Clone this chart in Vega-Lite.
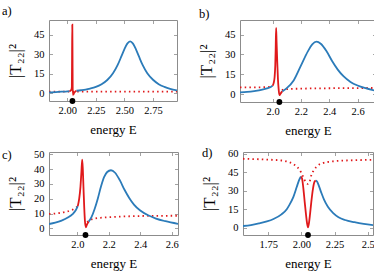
{
  "$schema": "https://vega.github.io/schema/vega-lite/v6.json",
  "background": "white",
  "padding": {"left": 1, "top": 4, "right": 0, "bottom": 0},
  "config": {
    "font": "Liberation Serif, serif",
    "view": {"stroke": "#8c8c8c", "strokeWidth": 1},
    "axis": {"grid": false, "domain": false, "tickColor": "#8c8c8c", "tickSize": -3.5, "tickWidth": 0.8,
      "labelFont": "Liberation Serif, serif", "labelFontSize": 10.5, "labelColor": "#000",
      "titleFont": "Liberation Serif, serif", "titleFontSize": 13, "titleFontWeight": "normal", "titleColor": "#000"},
    "axisBottom": {"labelPadding": 8, "titlePadding": 4, "minExtent": 18, "maxExtent": 18},
    "axisLeft": {"labelPadding": 8.5, "titlePadding": 5, "minExtent": 20, "maxExtent": 20, "titleFontSize": 17},
    "axisTop": {"labels": false, "minExtent": 0, "maxExtent": 0},
    "axisRight": {"labels": false, "minExtent": 0, "maxExtent": 0},
    "title": {"font": "Liberation Serif, serif", "fontSize": 12.5, "fontWeight": "normal", "anchor": "start", "frame": "group", "color": "#000", "offset": 0, "baseline": "alphabetic"},
    "line": {"interpolate": "monotone"}
  },
  "datasets": {
    "A": [
      {"E": 1.84, "T": 1.3, "s": "dot", "g": 0}, {"E": 2.96, "T": 1.3, "s": "dot", "g": 0},
      {"E": 1.84, "T": 0.6, "s": "blue", "g": 1}, {"E": 1.90, "T": 0.9, "s": "blue", "g": 1}, {"E": 1.95, "T": 1.2, "s": "blue", "g": 1}, {"E": 2.00, "T": 1.5, "s": "blue", "g": 1}, {"E": 2.02, "T": 1.7, "s": "blue", "g": 1},
      {"E": 2.02, "T": 1.7, "s": "red", "g": 5}, {"E": 2.03, "T": 2.1, "s": "red", "g": 5}, {"E": 2.036, "T": 2.8, "s": "red", "g": 5}, {"E": 2.04, "T": 5, "s": "red", "g": 5}, {"E": 2.042, "T": 30, "s": "red", "g": 5}, {"E": 2.044, "T": 53, "s": "red", "g": 5}, {"E": 2.046, "T": 25, "s": "red", "g": 5}, {"E": 2.048, "T": -1.2, "s": "red", "g": 5}, {"E": 2.053, "T": -0.9, "s": "red", "g": 5}, {"E": 2.06, "T": 0.3, "s": "red", "g": 5}, {"E": 2.07, "T": 1.3, "s": "red", "g": 5}, {"E": 2.08, "T": 1.9, "s": "red", "g": 5},
      {"E": 2.08, "T": 1.9, "s": "blue", "g": 2}, {"E": 2.12, "T": 2.3, "s": "blue", "g": 2}, {"E": 2.16, "T": 2.8, "s": "blue", "g": 2}, {"E": 2.20, "T": 3.6, "s": "blue", "g": 2}, {"E": 2.25, "T": 4.9, "s": "blue", "g": 2}, {"E": 2.30, "T": 7.0, "s": "blue", "g": 2}, {"E": 2.35, "T": 10.2, "s": "blue", "g": 2}, {"E": 2.40, "T": 15.4, "s": "blue", "g": 2}, {"E": 2.44, "T": 21.6, "s": "blue", "g": 2}, {"E": 2.475, "T": 28.8, "s": "blue", "g": 2}, {"E": 2.50, "T": 34.1, "s": "blue", "g": 2}, {"E": 2.525, "T": 38.3, "s": "blue", "g": 2}, {"E": 2.55, "T": 40, "s": "blue", "g": 2}, {"E": 2.575, "T": 38.3, "s": "blue", "g": 2}, {"E": 2.60, "T": 34.1, "s": "blue", "g": 2}, {"E": 2.625, "T": 28.8, "s": "blue", "g": 2}, {"E": 2.66, "T": 21.6, "s": "blue", "g": 2}, {"E": 2.70, "T": 15.4, "s": "blue", "g": 2}, {"E": 2.75, "T": 10.4, "s": "blue", "g": 2}, {"E": 2.80, "T": 7.0, "s": "blue", "g": 2}, {"E": 2.85, "T": 4.9, "s": "blue", "g": 2}, {"E": 2.90, "T": 3.4, "s": "blue", "g": 2}, {"E": 2.96, "T": 2.2, "s": "blue", "g": 2},
      {"E": 2.045, "T": -6, "s": "pt", "g": 9}
    ],
    "B": [
      {"E": 1.77, "T": 5.0, "s": "dot", "g": 0}, {"E": 1.90, "T": 5.1, "s": "dot", "g": 0}, {"E": 1.98, "T": 5.4, "s": "dot", "g": 0}, {"E": 2.00, "T": 5.6, "s": "dot", "g": 0},
      {"E": 2.065, "T": 3.0, "s": "dot", "g": 3}, {"E": 2.10, "T": 3.7, "s": "dot", "g": 3}, {"E": 2.20, "T": 4.1, "s": "dot", "g": 3}, {"E": 2.40, "T": 4.4, "s": "dot", "g": 3}, {"E": 2.73, "T": 4.6, "s": "dot", "g": 3},
      {"E": 1.77, "T": 1.3, "s": "blue", "g": 1}, {"E": 1.82, "T": 1.7, "s": "blue", "g": 1}, {"E": 1.87, "T": 2.3, "s": "blue", "g": 1}, {"E": 1.92, "T": 3.1, "s": "blue", "g": 1}, {"E": 1.96, "T": 4.3, "s": "blue", "g": 1}, {"E": 1.99, "T": 5.6, "s": "blue", "g": 1}, {"E": 2.00, "T": 6.3, "s": "blue", "g": 1},
      {"E": 2.00, "T": 6.3, "s": "red", "g": 5}, {"E": 2.008, "T": 8.5, "s": "red", "g": 5}, {"E": 2.014, "T": 12.5, "s": "red", "g": 5}, {"E": 2.019, "T": 22, "s": "red", "g": 5}, {"E": 2.022, "T": 35, "s": "red", "g": 5}, {"E": 2.025, "T": 50, "s": "red", "g": 5}, {"E": 2.028, "T": 40, "s": "red", "g": 5}, {"E": 2.033, "T": 24, "s": "red", "g": 5}, {"E": 2.038, "T": 11, "s": "red", "g": 5}, {"E": 2.043, "T": 3.5, "s": "red", "g": 5}, {"E": 2.048, "T": -0.8, "s": "red", "g": 5}, {"E": 2.053, "T": -0.3, "s": "red", "g": 5}, {"E": 2.06, "T": 0.9, "s": "red", "g": 5}, {"E": 2.068, "T": 2.0, "s": "red", "g": 5},
      {"E": 2.068, "T": 2.0, "s": "blue", "g": 2}, {"E": 2.10, "T": 4.5, "s": "blue", "g": 2}, {"E": 2.15, "T": 10.5, "s": "blue", "g": 2}, {"E": 2.20, "T": 21.5, "s": "blue", "g": 2}, {"E": 2.25, "T": 32.5, "s": "blue", "g": 2}, {"E": 2.28, "T": 37.5, "s": "blue", "g": 2}, {"E": 2.31, "T": 39.6, "s": "blue", "g": 2}, {"E": 2.34, "T": 38, "s": "blue", "g": 2}, {"E": 2.38, "T": 32.5, "s": "blue", "g": 2}, {"E": 2.42, "T": 25, "s": "blue", "g": 2}, {"E": 2.46, "T": 18.5, "s": "blue", "g": 2}, {"E": 2.50, "T": 13.5, "s": "blue", "g": 2}, {"E": 2.55, "T": 9.2, "s": "blue", "g": 2}, {"E": 2.60, "T": 6.5, "s": "blue", "g": 2}, {"E": 2.65, "T": 4.6, "s": "blue", "g": 2}, {"E": 2.73, "T": 2.4, "s": "blue", "g": 2},
      {"E": 2.048, "T": -6, "s": "pt", "g": 9}
    ],
    "C": [
      {"E": 1.82, "T": 9.7, "s": "dot", "g": 0}, {"E": 1.88, "T": 10.2, "s": "dot", "g": 0}, {"E": 1.93, "T": 11.2, "s": "dot", "g": 0}, {"E": 1.97, "T": 12.6, "s": "dot", "g": 0}, {"E": 2.00, "T": 14.5, "s": "dot", "g": 0},
      {"E": 2.062, "T": 4.2, "s": "dot", "g": 3}, {"E": 2.08, "T": 5.6, "s": "dot", "g": 3}, {"E": 2.11, "T": 6.6, "s": "dot", "g": 3}, {"E": 2.16, "T": 7.2, "s": "dot", "g": 3}, {"E": 2.25, "T": 7.8, "s": "dot", "g": 3}, {"E": 2.40, "T": 8.3, "s": "dot", "g": 3}, {"E": 2.64, "T": 8.5, "s": "dot", "g": 3},
      {"E": 1.82, "T": 2.9, "s": "blue", "g": 1}, {"E": 1.86, "T": 3.8, "s": "blue", "g": 1}, {"E": 1.90, "T": 5.2, "s": "blue", "g": 1}, {"E": 1.94, "T": 7.3, "s": "blue", "g": 1}, {"E": 1.97, "T": 9.6, "s": "blue", "g": 1}, {"E": 1.99, "T": 12.2, "s": "blue", "g": 1}, {"E": 2.003, "T": 15, "s": "blue", "g": 1},
      {"E": 2.003, "T": 15, "s": "red", "g": 5}, {"E": 2.012, "T": 20, "s": "red", "g": 5}, {"E": 2.02, "T": 28, "s": "red", "g": 5}, {"E": 2.026, "T": 38, "s": "red", "g": 5}, {"E": 2.031, "T": 46.3, "s": "red", "g": 5}, {"E": 2.035, "T": 40, "s": "red", "g": 5}, {"E": 2.039, "T": 28, "s": "red", "g": 5}, {"E": 2.044, "T": 14, "s": "red", "g": 5}, {"E": 2.048, "T": 5.6, "s": "red", "g": 5}, {"E": 2.054, "T": 0.7, "s": "red", "g": 5}, {"E": 2.06, "T": 2.2, "s": "red", "g": 5}, {"E": 2.066, "T": 3.5, "s": "red", "g": 5}, {"E": 2.072, "T": 4.5, "s": "red", "g": 5},
      {"E": 2.072, "T": 4.5, "s": "blue", "g": 2}, {"E": 2.09, "T": 7.5, "s": "blue", "g": 2}, {"E": 2.11, "T": 13, "s": "blue", "g": 2}, {"E": 2.13, "T": 20, "s": "blue", "g": 2}, {"E": 2.15, "T": 28, "s": "blue", "g": 2}, {"E": 2.17, "T": 34.5, "s": "blue", "g": 2}, {"E": 2.19, "T": 38, "s": "blue", "g": 2}, {"E": 2.214, "T": 39.2, "s": "blue", "g": 2}, {"E": 2.24, "T": 37.5, "s": "blue", "g": 2}, {"E": 2.27, "T": 32.5, "s": "blue", "g": 2}, {"E": 2.30, "T": 26, "s": "blue", "g": 2}, {"E": 2.33, "T": 20.5, "s": "blue", "g": 2}, {"E": 2.36, "T": 16, "s": "blue", "g": 2}, {"E": 2.40, "T": 12, "s": "blue", "g": 2}, {"E": 2.45, "T": 8.8, "s": "blue", "g": 2}, {"E": 2.50, "T": 6.6, "s": "blue", "g": 2}, {"E": 2.56, "T": 4.8, "s": "blue", "g": 2}, {"E": 2.64, "T": 3.0, "s": "blue", "g": 2},
      {"E": 2.052, "T": -4.5, "s": "pt", "g": 9}
    ],
    "D": [
      {"E": 1.56, "T": 56, "s": "dot", "g": 0}, {"E": 1.70, "T": 55.5, "s": "dot", "g": 0}, {"E": 1.79, "T": 55.1, "s": "dot", "g": 0}, {"E": 1.85, "T": 54.6, "s": "dot", "g": 0}, {"E": 1.89, "T": 53.8, "s": "dot", "g": 0}, {"E": 1.94, "T": 51.7, "s": "dot", "g": 0}, {"E": 1.975, "T": 48.6, "s": "dot", "g": 0}, {"E": 2.00, "T": 44.6, "s": "dot", "g": 0}, {"E": 2.02, "T": 39.7, "s": "dot", "g": 0}, {"E": 2.035, "T": 36.5, "s": "dot", "g": 0}, {"E": 2.05, "T": 35.5, "s": "dot", "g": 0}, {"E": 2.063, "T": 37.5, "s": "dot", "g": 0}, {"E": 2.075, "T": 42.6, "s": "dot", "g": 0}, {"E": 2.093, "T": 46.5, "s": "dot", "g": 0}, {"E": 2.125, "T": 50.6, "s": "dot", "g": 0}, {"E": 2.163, "T": 52.5, "s": "dot", "g": 0}, {"E": 2.238, "T": 53.9, "s": "dot", "g": 0}, {"E": 2.364, "T": 54.7, "s": "dot", "g": 0}, {"E": 2.54, "T": 55.1, "s": "dot", "g": 0},
      {"E": 1.56, "T": 1.3, "s": "blue", "g": 1}, {"E": 1.62, "T": 2.1, "s": "blue", "g": 1}, {"E": 1.68, "T": 3.4, "s": "blue", "g": 1}, {"E": 1.74, "T": 5.0, "s": "blue", "g": 1}, {"E": 1.79, "T": 7.0, "s": "blue", "g": 1}, {"E": 1.85, "T": 10.8, "s": "blue", "g": 1}, {"E": 1.89, "T": 15, "s": "blue", "g": 1}, {"E": 1.91, "T": 18.5, "s": "blue", "g": 1}, {"E": 1.94, "T": 25, "s": "blue", "g": 1}, {"E": 1.965, "T": 33, "s": "blue", "g": 1}, {"E": 1.982, "T": 38.5, "s": "blue", "g": 1}, {"E": 1.997, "T": 41.5, "s": "blue", "g": 1},
      {"E": 1.997, "T": 41.5, "s": "red", "g": 5}, {"E": 2.005, "T": 40, "s": "red", "g": 5}, {"E": 2.015, "T": 32, "s": "red", "g": 5}, {"E": 2.025, "T": 21, "s": "red", "g": 5}, {"E": 2.035, "T": 10.5, "s": "red", "g": 5}, {"E": 2.043, "T": 3.5, "s": "red", "g": 5}, {"E": 2.05, "T": 0.3, "s": "red", "g": 5}, {"E": 2.057, "T": 3.5, "s": "red", "g": 5}, {"E": 2.065, "T": 10.5, "s": "red", "g": 5}, {"E": 2.075, "T": 21, "s": "red", "g": 5}, {"E": 2.088, "T": 32, "s": "red", "g": 5}, {"E": 2.098, "T": 37, "s": "red", "g": 5}, {"E": 2.108, "T": 38.3, "s": "red", "g": 5},
      {"E": 2.108, "T": 38.3, "s": "blue", "g": 2}, {"E": 2.118, "T": 37.5, "s": "blue", "g": 2}, {"E": 2.13, "T": 34.5, "s": "blue", "g": 2}, {"E": 2.15, "T": 28.5, "s": "blue", "g": 2}, {"E": 2.17, "T": 23, "s": "blue", "g": 2}, {"E": 2.20, "T": 17, "s": "blue", "g": 2}, {"E": 2.24, "T": 11.8, "s": "blue", "g": 2}, {"E": 2.28, "T": 8.5, "s": "blue", "g": 2}, {"E": 2.33, "T": 6.2, "s": "blue", "g": 2}, {"E": 2.40, "T": 4.4, "s": "blue", "g": 2}, {"E": 2.47, "T": 3.0, "s": "blue", "g": 2}, {"E": 2.54, "T": 2.0, "s": "blue", "g": 2},
      {"E": 2.05, "T": -6, "s": "pt", "g": 9}
    ]
  },
  "spacing": 8,
  "vconcat": [
    {
      "spacing": 18,
      "hconcat": [
        {
          "width": 128, "height": 81,
          "title": {"text": "a)", "dx": -47, "dy": 2},
          "data": {"name": "A"},
          "resolve": {"axis": {"x": "independent", "y": "independent"}},
          "layer": [
            {"transform": [{"filter": "datum.s == 'dot'"}],
             "mark": {"type": "line", "color": "#e0191b", "strokeWidth": 1.8, "strokeDash": [1.5, 3.2], "clip": true},
             "encoding": {
               "x": {"field": "E", "type": "quantitative", "scale": {"domain": [1.84, 2.96], "nice": false, "zero": false}, "axis": {"title": "energy E", "values": [2, 2.25, 2.5, 2.75], "format": ".2f"}},
               "y": {"field": "T", "type": "quantitative", "scale": {"domain": [-6, 56.5], "nice": false, "zero": false}, "axis": {"title": "|T₂₂|²", "values": [0, 15, 30, 45]}},
               "detail": {"field": "g"}}},
            {"transform": [{"filter": "datum.s == 'blue'"}],
             "mark": {"type": "line", "color": "#2b7bb9", "strokeWidth": 1.8, "clip": true},
             "encoding": {
               "x": {"field": "E", "type": "quantitative", "axis": {"orient": "top", "values": [2, 2.25, 2.5, 2.75], "labels": false, "title": null}},
               "y": {"field": "T", "type": "quantitative", "axis": {"orient": "right", "values": [0, 15, 30, 45], "labels": false, "title": null}},
               "detail": {"field": "g"}}},
            {"transform": [{"filter": "datum.s == 'red'"}],
             "mark": {"type": "line", "color": "#e0191b", "strokeWidth": 1.8, "clip": true},
             "encoding": {"x": {"field": "E", "type": "quantitative", "axis": null}, "y": {"field": "T", "type": "quantitative", "axis": null}}},
            {"transform": [{"filter": "datum.s == 'pt'"}],
             "mark": {"type": "point", "filled": true, "color": "#000", "opacity": 1, "size": 34},
             "encoding": {"x": {"field": "E", "type": "quantitative", "axis": null}, "y": {"field": "T", "type": "quantitative", "axis": null}}}
          ]
        },
        {
          "width": 136, "height": 82,
          "title": {"text": "b)", "dx": -41, "dy": 5},
          "data": {"name": "B"},
          "resolve": {"axis": {"x": "independent", "y": "independent"}},
          "layer": [
            {"transform": [{"filter": "datum.s == 'dot'"}],
             "mark": {"type": "line", "color": "#e0191b", "strokeWidth": 1.8, "strokeDash": [1.5, 3.2], "clip": true},
             "encoding": {
               "x": {"field": "E", "type": "quantitative", "scale": {"domain": [1.77, 2.73], "nice": false, "zero": false}, "axis": {"title": "energy E", "values": [2, 2.2, 2.4, 2.6], "format": ".1f"}},
               "y": {"field": "T", "type": "quantitative", "scale": {"domain": [-6, 56], "nice": false, "zero": false}, "axis": {"title": "|T₂₂|²", "values": [0, 15, 30, 45]}},
               "detail": {"field": "g"}}},
            {"transform": [{"filter": "datum.s == 'blue'"}],
             "mark": {"type": "line", "color": "#2b7bb9", "strokeWidth": 1.8, "clip": true},
             "encoding": {
               "x": {"field": "E", "type": "quantitative", "axis": {"orient": "top", "values": [2, 2.2, 2.4, 2.6], "labels": false, "title": null}},
               "y": {"field": "T", "type": "quantitative", "axis": {"orient": "right", "values": [0, 15, 30, 45], "labels": false, "title": null}},
               "detail": {"field": "g"}}},
            {"transform": [{"filter": "datum.s == 'red'"}],
             "mark": {"type": "line", "color": "#e0191b", "strokeWidth": 1.8, "clip": true},
             "encoding": {"x": {"field": "E", "type": "quantitative", "axis": null}, "y": {"field": "T", "type": "quantitative", "axis": null}}},
            {"transform": [{"filter": "datum.s == 'pt'"}],
             "mark": {"type": "point", "filled": true, "color": "#000", "opacity": 1, "size": 34},
             "encoding": {"x": {"field": "E", "type": "quantitative", "axis": null}, "y": {"field": "T", "type": "quantitative", "axis": null}}}
          ]
        }
      ]
    },
    {
      "spacing": 20,
      "hconcat": [
        {
          "width": 129, "height": 83,
          "title": {"text": "c)", "dx": -47, "dy": 16},
          "data": {"name": "C"},
          "resolve": {"axis": {"x": "independent", "y": "independent"}},
          "layer": [
            {"transform": [{"filter": "datum.s == 'dot'"}],
             "mark": {"type": "line", "color": "#e0191b", "strokeWidth": 1.8, "strokeDash": [1.5, 3.2], "clip": true},
             "encoding": {
               "x": {"field": "E", "type": "quantitative", "scale": {"domain": [1.82, 2.64], "nice": false, "zero": false}, "axis": {"title": "energy E", "values": [2, 2.2, 2.4, 2.6], "format": ".1f"}},
               "y": {"field": "T", "type": "quantitative", "scale": {"domain": [-4.5, 51.5], "nice": false, "zero": false}, "axis": {"title": "|T₂₂|²", "values": [0, 10, 20, 30, 40, 50]}},
               "detail": {"field": "g"}}},
            {"transform": [{"filter": "datum.s == 'blue'"}],
             "mark": {"type": "line", "color": "#2b7bb9", "strokeWidth": 1.8, "clip": true},
             "encoding": {
               "x": {"field": "E", "type": "quantitative", "axis": {"orient": "top", "values": [2, 2.2, 2.4, 2.6], "labels": false, "title": null}},
               "y": {"field": "T", "type": "quantitative", "axis": {"orient": "right", "values": [0, 10, 20, 30, 40, 50], "labels": false, "title": null}},
               "detail": {"field": "g"}}},
            {"transform": [{"filter": "datum.s == 'red'"}],
             "mark": {"type": "line", "color": "#e0191b", "strokeWidth": 1.8, "clip": true},
             "encoding": {"x": {"field": "E", "type": "quantitative", "axis": null}, "y": {"field": "T", "type": "quantitative", "axis": null}}},
            {"transform": [{"filter": "datum.s == 'pt'"}],
             "mark": {"type": "point", "filled": true, "color": "#000", "opacity": 1, "size": 34},
             "encoding": {"x": {"field": "E", "type": "quantitative", "axis": null}, "y": {"field": "T", "type": "quantitative", "axis": null}}}
          ]
        },
        {
          "width": 130, "height": 83,
          "title": {"text": "d)", "dx": -41, "dy": 15},
          "data": {"name": "D"},
          "resolve": {"axis": {"x": "independent", "y": "independent"}},
          "layer": [
            {"transform": [{"filter": "datum.s == 'dot'"}],
             "mark": {"type": "line", "color": "#e0191b", "strokeWidth": 1.8, "strokeDash": [1.5, 3.2], "clip": true},
             "encoding": {
               "x": {"field": "E", "type": "quantitative", "scale": {"domain": [1.56, 2.54], "nice": false, "zero": false}, "axis": {"title": "energy E", "values": [1.75, 2, 2.25, 2.5], "labelExpr": "datum.value == 2.5 ? '2.5' : format(datum.value, '.2f')"}},
               "y": {"field": "T", "type": "quantitative", "scale": {"domain": [-6, 61.5], "nice": false, "zero": false}, "axis": {"title": "|T₂₂|²", "values": [0, 15, 30, 45, 60]}},
               "detail": {"field": "g"}}},
            {"transform": [{"filter": "datum.s == 'blue'"}],
             "mark": {"type": "line", "color": "#2b7bb9", "strokeWidth": 1.8, "clip": true},
             "encoding": {
               "x": {"field": "E", "type": "quantitative", "axis": {"orient": "top", "values": [1.75, 2, 2.25, 2.5], "labels": false, "title": null}},
               "y": {"field": "T", "type": "quantitative", "axis": {"orient": "right", "values": [0, 15, 30, 45, 60], "labels": false, "title": null}},
               "detail": {"field": "g"}}},
            {"transform": [{"filter": "datum.s == 'red'"}],
             "mark": {"type": "line", "color": "#e0191b", "strokeWidth": 1.8, "clip": true},
             "encoding": {"x": {"field": "E", "type": "quantitative", "axis": null}, "y": {"field": "T", "type": "quantitative", "axis": null}}},
            {"transform": [{"filter": "datum.s == 'pt'"}],
             "mark": {"type": "point", "filled": true, "color": "#000", "opacity": 1, "size": 34},
             "encoding": {"x": {"field": "E", "type": "quantitative", "axis": null}, "y": {"field": "T", "type": "quantitative", "axis": null}}}
          ]
        }
      ]
    }
  ]
}
